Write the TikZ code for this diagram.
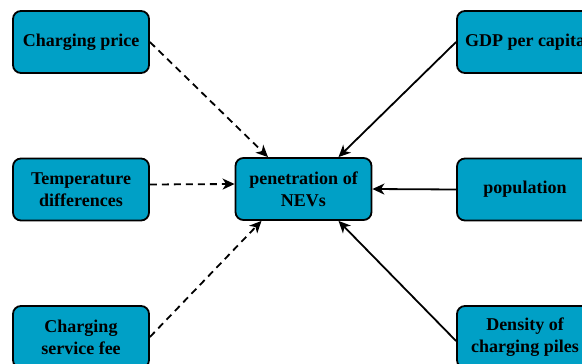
\documentclass[tikz,border=0pt]{standalone}
\usepackage{fontspec}
\setmainfont{Liberation Serif}
\usepackage{tikz}
\usetikzlibrary{arrows.meta, positioning}

\definecolor{boxblue}{RGB}{0,160,198}

\begin{document}
\begin{tikzpicture}[x=1pt, y=-1pt,
    factor/.style={draw=black, line width=1.8pt, fill=boxblue, rounded corners=8pt,
        minimum width=136pt, minimum height=62pt, align=center, inner sep=2pt,
        font=\fontsize{18}{22}\selectfont\bfseries},
    link/.style={-{Stealth[length=12pt, width=11pt, inset=3.5pt]}, line width=1.8pt},
    weak/.style={link, dash pattern=on 7pt off 5pt}]
    \useasboundingbox (0,0) rectangle (582,364);

    % Central node
    \node[factor] (nev) at (303.5,189) {penetration of\\NEVs};

    % Left factors (dashed influence)
    \node[factor] (price) at (81,42) {Charging price};
    \node[factor] (temp) at (81,189.5) {Temperature\\differences};
    \node[factor] (fee) at (81,337) {Charging\\service fee};

    % Right factors (solid influence)
    \node[factor] (gdp) at (525,42) {GDP per capita};
    \node[factor] (pop) at (525,189.5) {population};
    \node[factor] (piles) at (525,337) {Density of\\charging piles};

    % Connectors
    \draw[weak] (price.east) -- ([xshift=-35.5pt]nev.north);
    \draw[weak] ([yshift=5pt]temp.east) -- ([yshift=5pt]nev.west);
    \draw[weak] (fee.east) -- ([xshift=-42pt]nev.south);
    \draw[link] (gdp.west) -- ([xshift=35pt]nev.north);
    \draw[link] (pop.west) -- (nev.east);
    \draw[link] ([yshift=-4pt]piles.west) -- ([xshift=35pt]nev.south);
\end{tikzpicture}
\end{document}
